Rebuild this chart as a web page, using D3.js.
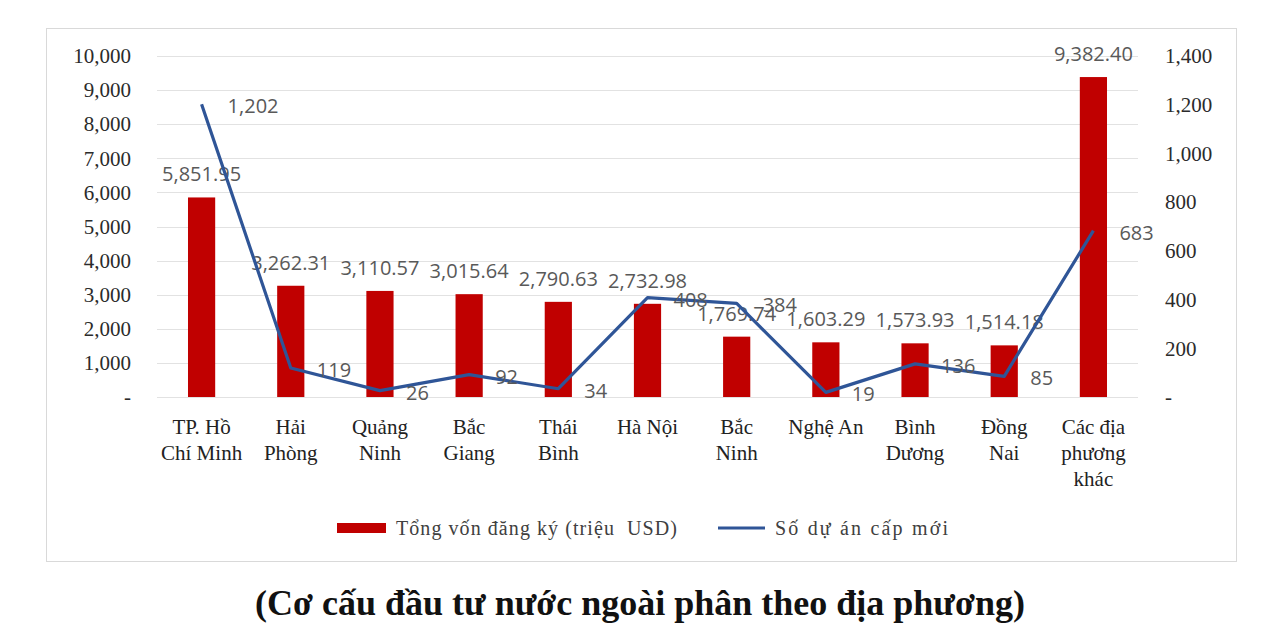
<!DOCTYPE html>
<html><head><meta charset="utf-8">
<script src="https://cdn.jsdelivr.net/npm/d3@7"></script>
<style>body{margin:0;background:#fff;} svg{display:block;}</style>
</head><body>
<svg id="c" width="1281" height="640"></svg>
<script>
const categories = [["TP. Hồ","Chí Minh"],["Hải","Phòng"],["Quảng","Ninh"],["Bắc","Giang"],["Thái","Bình"],["Hà Nội"],["Bắc","Ninh"],["Nghệ An"],["Bình","Dương"],["Đồng","Nai"],["Các địa","phương","khác"]];
const capital = [5851.95, 3262.31, 3110.57, 3015.64, 2790.63, 2732.98, 1769.74, 1603.29, 1573.93, 1514.18, 9382.40];
const projects = [1202, 119, 26, 92, 34, 408, 384, 19, 136, 85, 683];
const leftTicks = [0,1000,2000,3000,4000,5000,6000,7000,8000,9000,10000];
const rightTicks = [0,200,400,600,800,1000,1200,1400];
const seriesNames = ["Tổng vốn đăng ký (triệu  USD)","Số dự án cấp mới"];
const title = "(Cơ cấu đầu tư nước ngoài phân theo địa phương)";

const svg = d3.select("#c");
const L=157, R=1138, T=56, B=397;
const serif = "'Liberation Serif','Times New Roman',serif";
const sans = "'Open Sans',sans-serif";

svg.append("rect").attr("x",46.5).attr("y",28.5).attr("width",1190).attr("height",533)
  .attr("fill","#fff").attr("stroke","#d9d9d9").attr("stroke-width",1);

const x = d3.scaleBand().domain(d3.range(categories.length)).range([L,R]).paddingInner(0.695).paddingOuter(0.3475);
const yL = d3.scaleLinear().domain([0,10000]).range([B,T]);
const yR = d3.scaleLinear().domain([0,1400]).range([B,T]);
const fmt = d3.format(",");
const fmt2 = d3.format(",.2f");

// gridlines
svg.append("g").selectAll("line").data(leftTicks).join("line")
  .attr("x1",L).attr("x2",R).attr("y1",d=>Math.round(yL(d))+0.5).attr("y2",d=>Math.round(yL(d))+0.5)
  .attr("stroke","#e2e2e2").attr("stroke-width",1);

// left axis
const ga = svg.append("g").attr("transform",`translate(${131},0)`)
  .call(d3.axisLeft(yL).tickValues(leftTicks).tickSize(0).tickPadding(0).tickFormat(d=>d===0?"-":fmt(d)));
ga.select(".domain").remove();
ga.selectAll("text").attr("font-family",serif).attr("font-size",21).attr("fill","#2b2b2b");

const gr = svg.append("g").attr("transform",`translate(${1165},0)`)
  .call(d3.axisRight(yR).tickValues(rightTicks).tickSize(0).tickPadding(0).tickFormat(d=>d===0?"-":fmt(d)));
gr.select(".domain").remove();
gr.selectAll("text").attr("font-family",serif).attr("font-size",21).attr("fill","#2b2b2b");

// bars
svg.append("g").selectAll("rect").data(capital).join("rect")
  .attr("x",(d,i)=>x(i)).attr("width",x.bandwidth())
  .attr("y",d=>yL(d)).attr("height",d=>B-yL(d)).attr("fill","#C00000");

// bar labels
svg.append("g").selectAll("text").data(capital).join("text")
  .attr("x",(d,i)=>x(i)+x.bandwidth()/2).attr("y",d=>yL(d)-23).attr("dy","0.35em")
  .attr("text-anchor","middle").attr("font-family",sans).attr("font-size",20).attr("fill","#595959")
  .text(d=>fmt2(d));

// line
const cx = i=>x(i)+x.bandwidth()/2;
svg.append("path").datum(projects)
  .attr("d",d3.line().x((d,i)=>cx(i)).y(d=>yR(d)))
  .attr("fill","none").attr("stroke","#2F5597").attr("stroke-width",3.2).attr("stroke-linejoin","round");

svg.append("g").selectAll("text").data(projects).join("text")
  .attr("x",(d,i)=>cx(i)+26).attr("y",d=>yR(d)+2).attr("dy","0.35em")
  .attr("font-family",sans).attr("font-size",20).attr("fill","#595959")
  .text(d=>fmt(d));

// x labels
const gx = svg.append("g");
categories.forEach((lines,i)=>{
  const t = gx.append("text").attr("text-anchor","middle").attr("font-family",serif).attr("font-size",21).attr("fill","#222");
  lines.forEach((s,j)=>{
    t.append("tspan").attr("x",cx(i)).attr("y",434+j*26).text(s);
  });
});

// legend
function fitText(sel, target, base){
  const w = sel.node().getComputedTextLength();
  sel.attr("font-size", base*target/w);
}
svg.append("rect").attr("x",337).attr("y",523).attr("width",49).attr("height",10).attr("fill","#C00000");
svg.append("text").attr("x",396).attr("y",535).attr("font-family",serif).attr("font-size",20).attr("fill","#404040")
  .style("white-space","pre").attr("textLength",281).attr("lengthAdjust","spacing").text(seriesNames[0]);
svg.append("line").attr("x1",718).attr("x2",765).attr("y1",528).attr("y2",528).attr("stroke","#2F5597").attr("stroke-width",3.2);
svg.append("text").attr("x",775).attr("y",535).attr("font-family",serif).attr("font-size",20).attr("fill","#404040")
  .attr("textLength",173).attr("lengthAdjust","spacing").text(seriesNames[1]);

// title
const tt = svg.append("text").attr("x",640).attr("y",615).attr("text-anchor","middle")
  .attr("font-family",serif).attr("font-weight","bold").attr("font-size",28).attr("fill","#111").text(title);
fitText(tt, 770, 28);
</script>
</body></html>
